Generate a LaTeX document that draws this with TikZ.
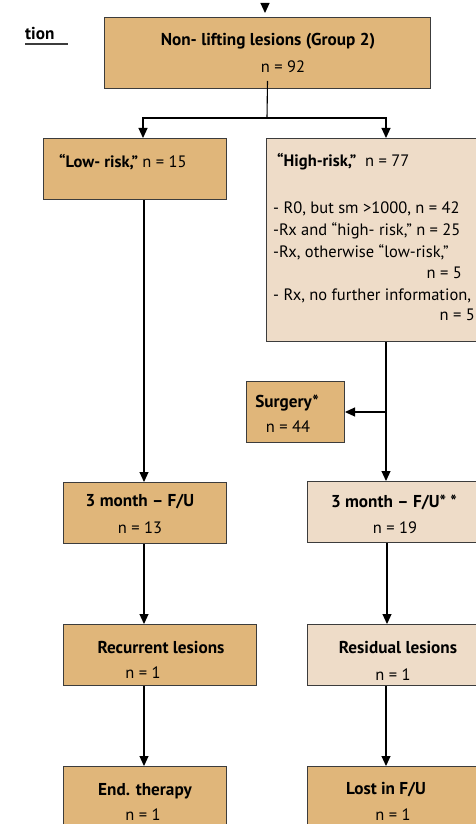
\documentclass[tikz,border=0pt]{standalone}
\usepackage{fontspec}
\setmainfont{PT Sans}
\usetikzlibrary{arrows.meta}
\definecolor{obox}{HTML}{E0B67A}
\definecolor{lbox}{HTML}{EEDCC8}
\definecolor{bord}{HTML}{3C3C3C}
\tikzset{
  boxbase/.style={draw=bord, line width=1pt, anchor=north west, inner sep=0pt},
  darkbox/.style={boxbase, fill=obox},
  lightbox/.style={boxbase, fill=lbox},
  txt/.style={inner sep=0pt, font=\fontsize{16.5}{19}\selectfont},
  btxt/.style={inner sep=0pt, font=\fontsize{17.2}{19}\selectfont\bfseries},
  arr/.style={draw=black, line width=1.1pt, -{Triangle[width=9pt,length=10pt]}},
  ln/.style={draw=black, line width=1.1pt}
}
\begin{document}
\begin{tikzpicture}[x=1pt,y=-1pt]
\useasboundingbox (0,0) rectangle (475,824);
% boxes
\node[darkbox, minimum width=326pt, minimum height=71pt] (b1) at (104,17) {};
\node[darkbox, minimum width=183pt, minimum height=61pt] (low) at (43,138) {};
\node[lightbox, minimum width=220pt, minimum height=203pt] (high) at (266,138) {};
\node[darkbox, minimum width=98pt, minimum height=61pt] (surg) at (246,381) {};
\node[darkbox, minimum width=163pt, minimum height=61pt] (fl) at (63,482) {};
\node[lightbox, minimum width=180pt, minimum height=61pt] (fr) at (307,481) {};
\node[darkbox, minimum width=193pt, minimum height=61pt] (rec) at (63,624) {};
\node[lightbox, minimum width=180pt, minimum height=61pt] (res) at (307,624) {};
\node[darkbox, minimum width=163pt, minimum height=70pt] (endt) at (63,766) {};
\node[darkbox, minimum width=180pt, minimum height=70pt] (lost) at (307,766) {};
% texts
\node[btxt, anchor=base west] (tion) at (25,40) {tion};
\coordinate (ula) at (25,44);
\coordinate (ulb) at (68,44);
\draw[line width=1.2pt, draw=bord] (ula) -- (ulb);
\node[btxt, anchor=base] (t1a) at (268,46) {Non- lifting lesions (Group 2)};
\node[txt, anchor=base] (t1b) at (283,73) {n = 92};
\node[txt, anchor=base west] (lowt) at (59,167) {{\bfseries “Low- risk,”} n = 15};
\node[txt, anchor=base west] (hight) at (277,166) {{\bfseries “High-risk,”}\ \ n = 77};
\node[txt, anchor=base west] (h1) at (273,213) {- R0, but sm >1000, n = 42};
\node[txt, anchor=base west] (h2) at (273,235) {-Rx and “high- risk,” n = 25};
\node[txt, anchor=base west] (h3) at (273,257) {-Rx, otherwise “low-risk,”};
\node[txt, anchor=base east] (h4) at (462,278) {n = 5};
\node[txt, anchor=base west] (h5) at (273,300) {- Rx, no further information,};
\node[txt, anchor=base east] (h6) at (475,320) {n = 5};
\node[btxt, anchor=base] (s1) at (287,407) {Surgery*};
\node[txt, anchor=base] (s2) at (288,432) {n = 44};
\node[btxt, anchor=base] (fl1) at (140,506) {3 month – F/U};
\node[txt, anchor=base] (fl2) at (140,533) {n = 13};
\node[btxt, anchor=base] (fr1) at (394,507) {3 month – F/U* *};
\node[txt, anchor=base] (fr2) at (395,533) {n = 19};
\node[btxt, anchor=base] (rec1) at (161,653) {Recurrent lesions};
\node[txt, anchor=base] (rec2) at (143,678) {n = 1};
\node[btxt, anchor=base] (res1) at (398,653) {Residual lesions};
\node[txt, anchor=base] (res2) at (393,680) {n = 1};
\node[btxt, anchor=base] (e1) at (145,795) {End. therapy};
\node[txt, anchor=base] (e2) at (143,820) {n = 1};
\node[btxt, anchor=base] (l1) at (386,794) {Lost in F/U};
\node[txt, anchor=base] (l2) at (393,820) {n = 1};
% connectors
\coordinate (topin) at (265,3);
\coordinate (toptip) at (265,13);
\draw[arr] (topin) -- (toptip);
\coordinate (split) at (267,118);
\draw[ln] ([yshift=8pt]b1.south) -- (split);
\draw[arr] (split) -| ([xshift=100pt]low.north west);
\draw[arr] (split) -| ([xshift=120pt]high.north west);
\draw[arr] ([xshift=101pt]low.south west) -- ([xshift=81pt]fl.north west);
\draw[arr] ([xshift=120pt]high.south west) -- ([xshift=79pt]fr.north west);
\coordinate (br) at (386,412);
\draw[arr] (br) -- (surg.east);
\draw[arr] ([xshift=81pt]fl.south west) -- ([xshift=81pt]rec.north west);
\draw[arr] ([xshift=80pt]fr.south west) -- ([xshift=80pt]res.north west);
\draw[arr] ([xshift=81pt]rec.south west) -- ([xshift=81pt]endt.north west);
\draw[arr] ([xshift=79pt]res.south west) -- ([xshift=79pt]lost.north west);
\end{tikzpicture}
\end{document}
